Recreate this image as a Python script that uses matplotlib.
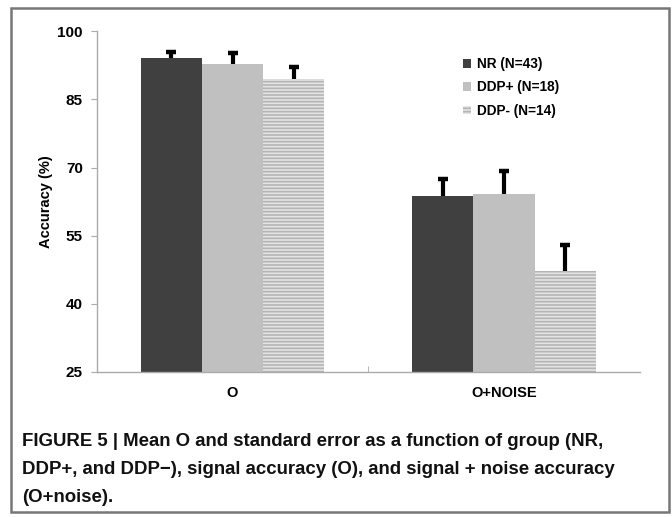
import matplotlib.pyplot as plt
import matplotlib.patches as mpatches
import numpy as np

plt.rcParams['font.family'] = ['Liberation Sans', 'DejaVu Sans']
plt.rcParams['hatch.linewidth'] = 1.2

# data
conditions = ['O', 'O+NOISE']
groups = ['NR (N=43)', 'DDP+ (N=18)', 'DDP- (N=14)']
means = [[94.2, 63.8],   # NR
         [92.9, 64.1],   # DDP+
         [89.6, 47.3]]   # DDP-
errors = [[1.6, 4.0],
          [2.7, 5.4],
          [2.9, 5.9]]
yticks = [25, 40, 55, 70, 85, 100]

fig = plt.figure(figsize=(6.72, 5.17), dpi=100)
ax = fig.add_axes([0.144, 0.2805, 0.808, 0.659])

colors = ['#404040', '#c0c0c0', '#e4e4e4']
hatches = [None, None, '-----']
x = np.arange(len(conditions))
w = 0.225
for i in range(len(groups)):
    pos = x + (i - 1) * w
    m = np.array(means[i])
    top = m + np.array(errors[i])
    ax.bar(pos, m, w, bottom=0, color=colors[i], hatch=hatches[i],
           edgecolor='#b4b4b4' if hatches[i] else colors[i], linewidth=0)
    # only the upper half of the error bar, as in the original
    ax.vlines(pos, m, top, color='black', linewidth=3.0, zorder=3)
    ax.plot(pos, top - 0.3, linestyle='none', marker='_', markersize=6.5,
            markeredgewidth=3.2, color='black', zorder=3)

ax.set_ylim(25, 100)
ax.set_xlim(-0.5, 1.5)
ax.set_yticks(yticks)
ax.set_yticklabels([str(t) for t in yticks], fontsize=11, fontweight='bold')
ax.set_xticks([0.5], minor=True)
ax.set_xticks(x)
ax.set_xticklabels(conditions, fontsize=10.5, fontweight='bold')
ax.tick_params(axis='x', which='major', length=0, pad=10)
ax.tick_params(axis='x', which='minor', length=4, direction='in', color='#aaaaaa')
ax.tick_params(axis='y', length=4, color='#aaaaaa', pad=6)
ax.set_ylabel('Accuracy (%)', fontsize=10.5, fontweight='bold', labelpad=3)
for s in ['top', 'right']:
    ax.spines[s].set_visible(False)
for s in ['left', 'bottom']:
    ax.spines[s].set_color('#aaaaaa')
    ax.spines[s].set_linewidth(1)

handles = [mpatches.Patch(facecolor=colors[i], hatch=hatches[i],
                          edgecolor='#b4b4b4' if hatches[i] else colors[i], linewidth=0)
           for i in range(len(groups))]
leg = ax.legend(handles, groups, loc='upper left', bbox_to_anchor=(0.652, 0.96),
                frameon=False, handlelength=0.6, handleheight=0.6, handletextpad=0.4,
                labelspacing=0.68, prop={'weight': 'bold', 'size': 9.8})

# frame around the whole figure
fig.patches.append(mpatches.Rectangle((11 / 672, 5 / 517), 658 / 672, 504 / 517,
                                      transform=fig.transFigure, fill=False,
                                      edgecolor='#777777', linewidth=1.8))

caption = ('FIGURE 5 | Mean O and standard error as a function of group (NR,\n'
           'DDP+, and DDP\u2212), signal accuracy (O), and signal + noise accuracy\n'
           '(O+noise).')
fig.text(22 / 672, 1 - 433 / 517, caption, fontsize=13.4, fontweight='bold',
         va='top', ha='left', linespacing=1.86, color='#111111')

fig.savefig('out.png', dpi=100)
